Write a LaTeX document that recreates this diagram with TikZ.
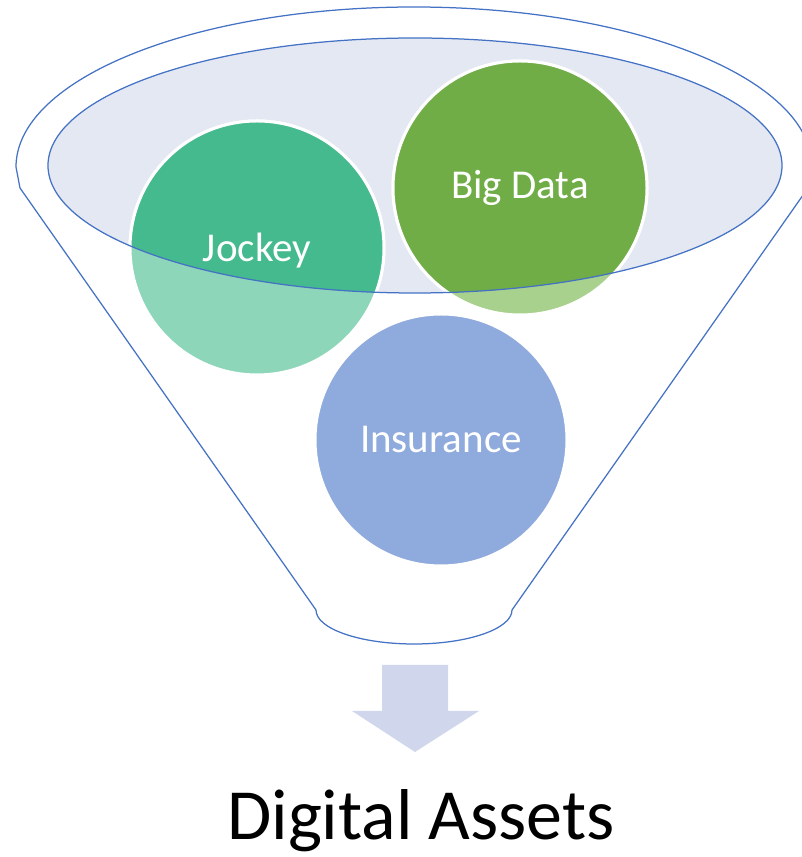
\documentclass[tikz,border=0pt]{standalone}
\usepackage{fontspec}
\setmainfont{Carlito}
\definecolor{funnelline}{HTML}{4472C4}
\definecolor{rimfill}{HTML}{E4E8F3}
\definecolor{jockeydark}{HTML}{44BA8E}
\definecolor{jockeylight}{HTML}{8ED6BA}
\definecolor{bigdark}{HTML}{70AD47}
\definecolor{biglight}{HTML}{A9D18E}
\definecolor{insfill}{HTML}{8FAADC}
\definecolor{arrowfill}{HTML}{D0D7EC}
\begin{document}
\begin{tikzpicture}[x=1pt,y=1pt,
  funnel/.style={draw=funnelline, line width=1.25pt, line join=round},
  ball/.style={circle, draw=white, line width=3pt, inner sep=0pt},
  balltext/.style={text=white, font=\fontsize{41}{48}\selectfont, inner sep=0pt, anchor=base},
  caption/.style={text=black, font=\fontsize{72}{84}\selectfont, inner sep=0pt, anchor=base}]
\useasboundingbox (0,0) rectangle (801,857);
% funnel outline
\draw[funnel] (16,690) arc[start angle=180, end angle=0, x radius=398pt, y radius=160pt]
  -- (808,669) -- (512,247)
  arc[start angle=0, end angle=-180, x radius=98pt, y radius=34pt]
  -- (20,669) -- cycle;
% inner rim fill
\fill[rimfill] (415,691.5) ellipse[x radius=367pt, y radius=127.5pt];
% circles (light parts)
\node[ball, fill=jockeylight, minimum size=254pt] (jockey) at (257,609) {};
\node[ball, fill=biglight, minimum size=254pt] (bigdata) at (520,669) {};
\node[ball, fill=insfill, minimum size=252pt] (insurance) at (441,417) {};
% parts of circles inside the rim
\begin{scope}
  \clip (415,691.5) ellipse[x radius=367pt, y radius=127.5pt];
  \draw[draw=white, line width=3pt, fill=jockeydark] (jockey.center) circle[radius=127pt];
  \draw[draw=white, line width=3pt, fill=bigdark] (bigdata.center) circle[radius=127pt];
\end{scope}
% rim outline
\draw[funnel] (415,691.5) ellipse[x radius=367pt, y radius=127.5pt];
% labels
\node[balltext] (jockeylabel) at (257,595) {Jockey};
\node[balltext] (bigdatalabel) at (520,658) {Big Data};
\node[balltext] (insurancelabel) at (441,404) {Insurance};
% arrow
\fill[arrowfill] (382,192) -- (448,192) -- (448,146) -- (479,146) -- (415,105)
  -- (352,146) -- (382,146) -- cycle;
\node[caption] (digital) at (421,17) {Digital Assets};
\end{tikzpicture}
\end{document}
